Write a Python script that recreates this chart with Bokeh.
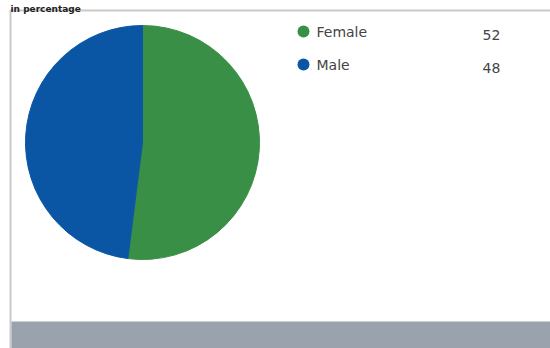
import numpy as np
from bokeh.plotting import figure
from bokeh.models import Range1d, ColumnDataSource
from bokeh.core.properties import value
from bokeh.embed import file_html
from bokeh.resources import INLINE

# data
categories = ["Female", "Male"]
values = [52, 48]
colors = ["#3a8f47", "#0b56a4"]
title = "in percentage"

W, H = 550, 348
p = figure(width=W, height=H, output_backend="svg", toolbar_location=None,
           x_range=Range1d(0, W), y_range=Range1d(H, 0),
           min_border=0, outline_line_color=None)
p.axis.visible = False
p.grid.visible = False
p.background_fill_color = "white"
p.border_fill_color = "white"

# panel frame
p.quad(left=[10], right=[W + 5], top=[10], bottom=[H + 5],
       fill_color="white", line_color="#c9c9c9", line_width=2)
# bottom band
p.quad(left=[11], right=[W + 5], top=[321], bottom=[H + 5],
       fill_color="#9aa3ad", line_color=None)

# title
p.text(x=[10], y=[8], text=[title], text_font=value("DejaVu Sans"),
       text_font_size="9px", text_font_style="bold", text_color="#222222",
       text_baseline="alphabetic")

# pie: clockwise from 12 o'clock (y axis flipped -> screen angles)
vals = np.array(values, dtype=float)
frac = vals / vals.sum()
ends = np.cumsum(frac) * 2 * np.pi
starts = ends - frac * 2 * np.pi
start_angle = np.pi / 2 - starts
end_angle = np.pi / 2 - ends
src = ColumnDataSource(dict(cat=categories, start=start_angle, end=end_angle, color=colors))
p.wedge(x=142, y=142, radius=117, start_angle="start", end_angle="end",
        direction="clock", fill_color="color", line_color="color", line_width=1,
        source=src)

# legend
ly = [31, 64]
p.scatter(x=[303] * len(categories), y=ly, size=12, fill_color=colors, line_color=None)
p.text(x=[316] * len(categories), y=ly, text=categories, text_font=value("DejaVu Sans"),
       text_font_size="14px", text_color="#444444", text_baseline="middle")
p.text(x=[491] * len(categories), y=[y + 3 for y in ly], text=[str(v) for v in values],
       text_font=value("DejaVu Sans"), text_font_size="14px", text_color="#444444",
       text_baseline="middle", text_align="center")

open("out.html", "w").write(file_html(p, INLINE))
